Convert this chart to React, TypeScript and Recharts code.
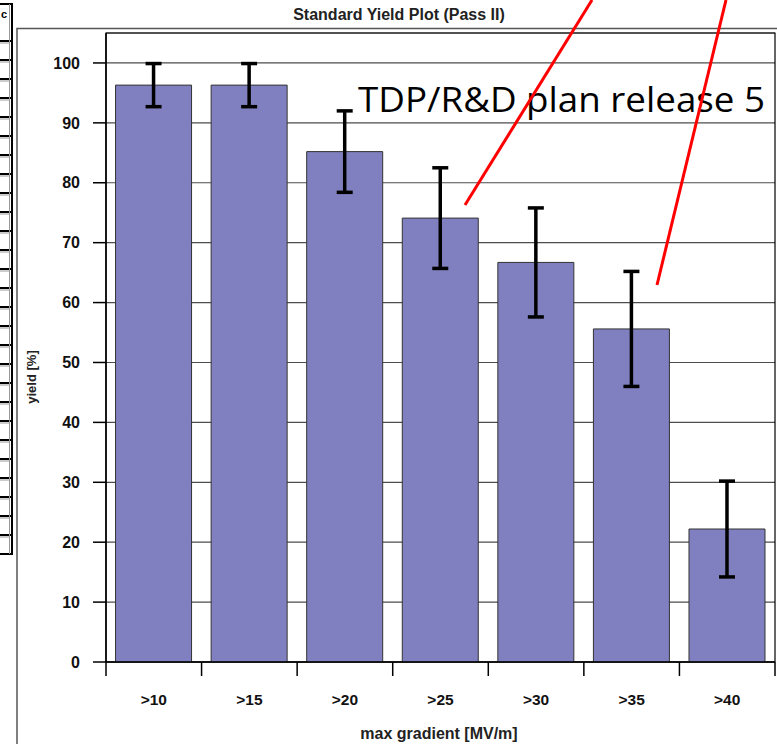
import {
  BarChart,
  Bar,
  XAxis,
  YAxis,
  CartesianGrid,
  ErrorBar,
  ReferenceArea,
  Label,
} from 'recharts';

const categories = ['>10', '>15', '>20', '>25', '>30', '>35', '>40'];
const yieldValues = [96.3, 96.3, 85.2, 74.1, 66.7, 55.6, 22.2];
const yieldErrors = [3.6, 3.6, 6.8, 8.4, 9.1, 9.6, 8.0];
const yTicks = [0, 10, 20, 30, 40, 50, 60, 70, 80, 90, 100];
const tableRowCount = 27;

const data = categories.map((gradient, i) => ({
  gradient,
  yield: yieldValues[i],
  err: yieldErrors[i],
}));

const axisFont = '"Liberation Sans", Arial, sans-serif';

function GradientTick(props: any) {
  const { x, y, payload, index, width, visibleTicksCount } = props;
  const half = payload.offset || width / visibleTicksCount / 2;
  return (
    <g>
      <line x1={x - half} y1={y} x2={x - half} y2={y + 14} stroke="#000" strokeWidth={1.5} />
      {index === categories.length - 1 && (
        <line x1={x + half} y1={y} x2={x + half} y2={y + 14} stroke="#000" strokeWidth={1.5} />
      )}
      <text
        x={x}
        y={y + 43}
        textAnchor="middle"
        fontFamily={axisFont}
        fontWeight="bold"
        fontSize={15.5}
        fill="#111"
      >
        {payload.value}
      </text>
    </g>
  );
}

function Overlay() {
  const rows = Array.from({ length: tableRowCount }, (_, i) => i);
  return (
    <svg
      width={777}
      height={744}
      style={{ position: 'absolute', left: 0, top: 0, pointerEvents: 'none' }}
    >
      {/* title */}
      <text
        x={399}
        y={19.5}
        textAnchor="middle"
        fontFamily={axisFont}
        fontWeight="bold"
        fontSize={16}
        fill="#222"
      >
        Standard Yield Plot (Pass II)
      </text>

      {/* chart frame */}
      <polyline points="17,744 17,28.5 777,28.5" fill="none" stroke="#555" strokeWidth={1.5} />

      {/* table fragment on the left */}
      <rect x={-4} y={4} width={16} height={37} fill="#fff" stroke="#000" strokeWidth={2} />
      <text x={1} y={18} fontFamily={axisFont} fontWeight="bold" fontSize={11} fill="#000">
        c
      </text>
      {rows.map((i) => (
        <g key={i}>
          <rect x={-4} y={41 + i * 19} width={16} height={19} fill="#fff" stroke="#000" strokeWidth={2} />
          <line x1={0} y1={43 + i * 19} x2={10} y2={43 + i * 19} stroke="#999" strokeWidth={1} />
        </g>
      ))}
      <line x1={9.5} y1={4} x2={9.5} y2={41 + tableRowCount * 19} stroke="#999" strokeWidth={1} />

      {/* annotation */}
      <text
        x={358}
        y={112}
        fontFamily='"Open Sans", "Noto Sans", sans-serif'
        fontSize={35}
        textLength={407}
        lengthAdjust="spacingAndGlyphs"
        fill="#000"
      >
        TDP/R&amp;D plan release 5
      </text>
      <line x1={465} y1={205} x2={592} y2={0} stroke="#ff0000" strokeWidth={3} />
      <line x1={657} y1={285} x2={726} y2={0} stroke="#ff0000" strokeWidth={3} />
    </svg>
  );
}

export default function App() {
  return (
    <div
      style={{
        position: 'absolute',
        left: 0,
        top: 0,
        width: 777,
        height: 744,
        background: '#fff',
        overflow: 'hidden',
      }}
    >
      <BarChart
        width={777}
        height={744}
        data={data}
        margin={{ top: 33, right: 2, left: 0, bottom: 0 }}
        barCategoryGap="10%"
      >
        <CartesianGrid horizontal vertical={false} stroke="#4d4d4d" strokeWidth={1.2} />
        <ReferenceArea y1={0} y2={105} fill="none" stroke="#000" strokeWidth={1.2} ifOverflow="visible" />
        <XAxis
          dataKey="gradient"
          height={82}
          tickSize={0}
          tickMargin={0}
          tickLine={false}
          axisLine={{ stroke: '#000', strokeWidth: 1.5 }}
          tick={<GradientTick />}
          interval={0}
        >
          <Label
            content={() => (
              <text
                x={439}
                y={739}
                textAnchor="middle"
                fontFamily={axisFont}
                fontWeight="bold"
                fontSize={16}
                fill="#222"
              >
                max gradient [MV/m]
              </text>
            )}
          />
        </XAxis>
        <YAxis
          domain={[0, 105]}
          ticks={yTicks}
          width={106}
          tickSize={13}
          tickMargin={13}
          axisLine={{ stroke: '#000', strokeWidth: 1.5 }}
          tickLine={{ stroke: '#000', strokeWidth: 1.5 }}
          tick={{ fill: '#111', fontSize: 16, fontWeight: 'bold', fontFamily: axisFont }}
          allowDataOverflow
        >
          <Label
            content={() => (
              <text
                x={31}
                y={377}
                transform="rotate(-90 31 377)"
                textAnchor="middle"
                dominantBaseline="central"
                fontFamily={axisFont}
                fontWeight="bold"
                fontSize={13}
                fill="#222"
              >
                yield [%]
              </text>
            )}
          />
        </YAxis>
        <Bar dataKey="yield" fill="#8080c0" stroke="#333" strokeWidth={1} isAnimationActive={false}>
          <ErrorBar
            dataKey="err"
            direction="y"
            width={8}
            stroke="#000"
            strokeWidth={3.5}
            isAnimationActive={false}
          />
        </Bar>
      </BarChart>
      <Overlay />
    </div>
  );
}
